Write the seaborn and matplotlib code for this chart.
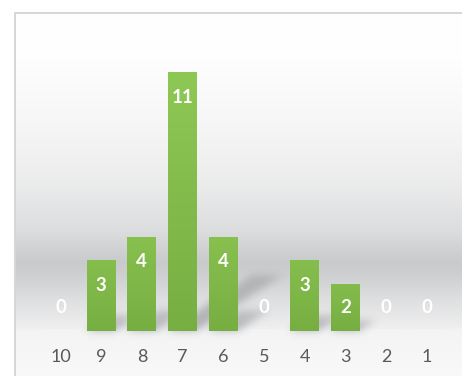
import numpy as np
import matplotlib
matplotlib.use("Agg")
import matplotlib.pyplot as plt
from matplotlib.colors import LinearSegmentedColormap
import seaborn as sns
import pandas as pd

# Score categories (descending) and how many responses fell in each
categories = ["10", "9", "8", "7", "6", "5", "4", "3", "2", "1"]
counts = [0, 3, 4, 11, 4, 0, 3, 2, 0, 0]

W, H = 462, 376
sns.set_theme(style="white")
plt.rcParams["font.family"] = ["Lato", "DejaVu Sans"]

fig = plt.figure(figsize=(W / 100, H / 100), dpi=100)
fig.patch.set_facecolor("white")

# ---- background panel (pixel coordinates, origin bottom-left) ----
bg = fig.add_axes([0, 0, 1, 1])
bg.set_xlim(0, W)
bg.set_ylim(0, H)
bg.axis("off")

panel_top, panel_left = 13, 15
stop_y = np.array([13, 60, 120, 180, 230, 262, 275, 300, 326, 331, 376])
stop_v = np.array([255, 254, 247, 237, 222, 203, 208, 224, 238, 244, 249])
rows = np.arange(panel_top, H) + 0.5
gray = np.interp(rows, stop_y, stop_v)
dark = (255 - gray) / 50.0
rgb = np.stack([gray - 2 * dark, gray - dark, gray + dark], axis=-1).clip(0, 255) / 255.0
bg.imshow(rgb[:, None, :], extent=(panel_left, W, 0, H - panel_top),
          aspect="auto", interpolation="bilinear", zorder=0)
bg.plot([panel_left, W], [H - panel_top, H - panel_top], color="#d6d6d6", lw=1.4, zorder=3)
bg.plot([panel_left, panel_left], [0, H - panel_top], color="#d6d6d6", lw=1.4, zorder=3)
bg.set_xlim(0, W)
bg.set_ylim(0, H)

# ---- bar chart ----
px_per_unit = 23.5
base_px = 45.3
ax = fig.add_axes([40.15 / W, base_px / H, 407 / W, 12 * px_per_unit / H])
ax.patch.set_visible(False)
df = pd.DataFrame({"score": categories, "count": counts})
sns.barplot(data=df, x="score", y="count", order=categories, color="#84bd4c",
            width=0.71, ax=ax, saturation=1)
ax.set_ylim(0, 12)
ax.set_xlim(-0.5, 9.5)
for s in ax.spines.values():
    s.set_visible(False)
ax.set_xlabel("")
ax.set_ylabel("")
ax.set_yticks([])
ax.set_xticks([])

# soft cast shadows behind bars, derived from each bar's height
shadow = np.zeros((H, W))
for patch in ax.patches:
    h = patch.get_height()
    if h <= 0:
        continue
    x0, y0 = ax.transData.transform((patch.get_x(), 0))
    x1, _ = ax.transData.transform((patch.get_x() + patch.get_width(), 0))
    for t in np.linspace(0, h, int(h * 30) + 1):
        yy = int(round(y0 + 5.0 * t))
        xa = int(round(x0 + 7.7 * t))
        xb = int(round(x1 + 7.7 * t))
        if 0 <= yy < H:
            strength = 0.42 * (1 - 0.4 * t / max(h, 1))
            seg = slice(max(xa, 0), min(xb, W))
            shadow[yy, seg] = np.maximum(shadow[yy, seg], strength)
k = np.arange(-14, 15)
g = np.exp(-k ** 2 / (2 * 4.0 ** 2))
g /= g.sum()
shadow = np.apply_along_axis(lambda r: np.convolve(r, g, mode="same"), 1, shadow)
shadow = np.apply_along_axis(lambda c: np.convolve(c, g, mode="same"), 0, shadow)
sh_rgba = np.zeros((H, W, 4))
sh_rgba[..., 0] = 0.36
sh_rgba[..., 1] = 0.37
sh_rgba[..., 2] = 0.39
sh_rgba[..., 3] = shadow
bg.imshow(sh_rgba, extent=(0, W, 0, H), origin="lower", aspect="auto", zorder=1)
bg.set_xlim(0, W)
bg.set_ylim(0, H)

# vertical green gradient inside each bar
bar_cmap = LinearSegmentedColormap.from_list("bar", ["#77ae42", "#8ec854"])
grad = np.linspace(0, 1, 256)[:, None]
for patch in ax.patches:
    h = patch.get_height()
    if h <= 0:
        continue
    x = patch.get_x()
    w = patch.get_width()
    top_frac = min(1.0, 0.35 + h / 11.0)
    im = ax.imshow(grad * top_frac, cmap=bar_cmap, vmin=0, vmax=1,
                   extent=[x, x + w, 0, h], origin="lower", aspect="auto", zorder=2)
    im.set_clip_path(patch)
    patch.set_edgecolor("none")
ax.set_xlim(-0.5, 9.5)
ax.set_ylim(0, 12)

# value labels and category labels
for i, v in enumerate(counts):
    y = max(v - 25 / px_per_unit, 23 / px_per_unit)
    ax.text(i, y, str(v), ha="center", va="center", color="white",
            fontsize=13.5, fontweight="bold", zorder=5)
    ax.text(i, -26.5 / px_per_unit, categories[i], ha="center", va="center",
            color="#595959", fontsize=13, clip_on=False, zorder=5)

fig.savefig("out.png", dpi=100)
